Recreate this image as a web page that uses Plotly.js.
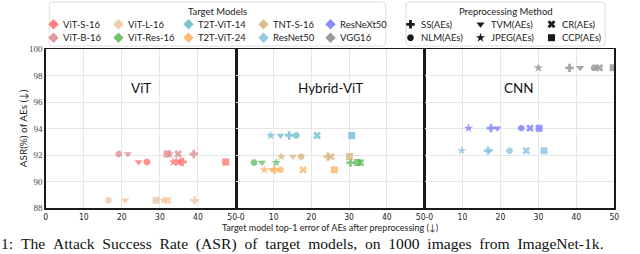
<!DOCTYPE html>
<html><head><meta charset="utf-8">
<script src="https://cdn.plot.ly/plotly-3.0.1.min.js"></script>
<style>html,body{margin:0;padding:0;background:#fff;overflow:hidden}#chart{width:640px;height:254px;}</style>
</head><body><div id="chart"></div>
<script>
// ---- data ----
const models = ['ViT-S-16','ViT-B-16','ViT-L-16','ViT-Res-16','T2T-ViT-14','T2T-ViT-24','TNT-S-16','ResNet50','ResNeXt50','VGG16'];
const modelColors = ['#ff6b6b','#d98a8d','#ebc39b','#5cb85c','#66b9cc','#ffb060','#d8b37a','#86c0dc','#7676ff','#8a8a8a'];
const modelPanel = [0,0,0,1,1,1,1,2,2,2];
const asr = [91.5, 92.1, 88.6, 91.45, 93.5, 90.9, 91.9, 92.35, 94.05, 98.6];
const methods = ['SS(AEs)','NLM(AEs)','TVM(AEs)','JPEG(AEs)','CR(AEs)','CCP(AEs)'];
const methodSymbols = ['cross','octagon','triangle-down','star','x','square'];
// top-1 error after preprocessing, order: SS, NLM, TVM, JPEG, CR, CCP
const errViTS16   = [36.0, 26.6, 24.4, 33.5, 34.8, 47.3];
const errViTB16   = [38.9, 19.2, 21.6, 32.6, 34.8, 31.9];
const errViTL16   = [39.1, 16.5, 20.9, 31.0, 32.1, 29.0];
const errViTRes16 = [30.4,  4.8,  6.9, 10.7, 33.0, 32.2];
const errT2T14    = [14.1, 16.0, 11.8,  9.2, 21.5, 30.7];
const errT2T24    = [10.3, 11.8,  9.6,  7.5, 17.8, 26.1];
const errTNTS16   = [24.3, 17.3, 15.1, 12.0, 25.2, 30.1];
const errResNet50 = [16.7, 22.4, 17.1,  9.8, 26.8, 31.5];
const errResNeXt50= [17.5, 25.5, 19.2, 11.6, 27.8, 30.2];
const errVGG16    = [38.2, 44.7, 41.0, 30.0, 46.1, 49.7];
const errors = [errViTS16, errViTB16, errViTL16, errViTRes16, errT2T14, errT2T24, errTNTS16, errResNet50, errResNeXt50, errVGG16];
const panelTitles = ['ViT','Hybrid-ViT','CNN'];
const xTickVals = [0,10,20,30,40,50];
const xTickText = [['0','10','20','30','40','50-0'],['','10','20','30','40','50-0'],['','10','20','30','40','50']];
const yTickVals = [88,90,92,94,96,98,100];
const legendTitle1 = 'Target Models';
const legendTitle2 = 'Preprocessing Method';
const xTitle = 'Target model top-1 error of AEs after preprocessing (\u2193)';
const yTitle = 'ASR(%) of AEs (\u2193)';
const caption = '1: The Attack Success Rate (ASR) of target models, on 1000 images from ImageNet-1k.';

// ---- layout geometry (px) ----
const W = 640, H = 254;
const panelEdges = [45.7, 236, 424.5, 614.3];
const plotTop = 49.3, plotBottom = 208.3;
const leg1 = {x0: 49.3, x1: 385.7, y0: 2, y1: 46, colX: [53.5, 118.5, 188.5, 263.5, 330.5]};
const leg2 = {x0: 406, x1: 605, y0: 2, y1: 46, colX: [410.5, 480.5, 551.5]};
const rowY = [24.3, 37.7];
const titleY = 11;

const sansFont = 'Lato, "DejaVu Sans", sans-serif';
const traces = [];
const axName = p => (p === 0 ? '' : String(p + 1));

models.forEach((m, i) => {
  const p = modelPanel[i];
  traces.push({
    type: 'scatter', mode: 'markers', name: m,
    x: errors[i], y: errors[i].map(() => asr[i]), text: methods,
    xaxis: 'x' + axName(p), yaxis: 'y' + axName(p),
    marker: {symbol: methodSymbols, color: modelColors[i], size: 7, opacity: 0.75, line: {width: 0}},
    showlegend: false, hovertemplate: m + ' %{text}: (%{x}, %{y})<extra></extra>'
  });
});

// legend markers (overlay pixel axes)
traces.push({
  type: 'scatter', mode: 'markers', xaxis: 'x4', yaxis: 'y4', showlegend: false, hoverinfo: 'skip',
  x: models.map((_, i) => leg1.colX[Math.floor(i / 2)]),
  y: models.map((_, i) => rowY[i % 2]),
  marker: {symbol: 'diamond', size: 8, color: modelColors, opacity: 0.85}
});
traces.push({
  type: 'scatter', mode: 'markers', xaxis: 'x4', yaxis: 'y4', showlegend: false, hoverinfo: 'skip',
  x: methods.map((_, i) => leg2.colX[Math.floor(i / 2)]),
  y: methods.map((_, i) => rowY[i % 2]),
  marker: {symbol: methodSymbols, size: 7, color: '#1a1a1a'}
});

const annotations = [];
models.forEach((m, i) => annotations.push({
  xref: 'x4', yref: 'y4', x: leg1.colX[Math.floor(i / 2)] + 7, y: rowY[i % 2], xanchor: 'left', yanchor: 'middle',
  text: m, showarrow: false, font: {family: sansFont, size: 9.5, color: '#222'}
}));
methods.forEach((m, i) => annotations.push({
  xref: 'x4', yref: 'y4', x: leg2.colX[Math.floor(i / 2)] + 8, y: rowY[i % 2], xanchor: 'left', yanchor: 'middle',
  text: m, showarrow: false, font: {family: sansFont, size: 9.5, color: '#222'}
}));
annotations.push({xref: 'x4', yref: 'y4', x: (leg1.x0 + leg1.x1) / 2, y: titleY, text: legendTitle1, showarrow: false, font: {family: sansFont, size: 9.5, color: '#222'}});
annotations.push({xref: 'x4', yref: 'y4', x: (leg2.x0 + leg2.x1) / 2, y: titleY, text: legendTitle2, showarrow: false, font: {family: sansFont, size: 9.5, color: '#222'}});
panelTitles.forEach((t, p) => annotations.push({
  xref: 'x' + axName(p), yref: 'y' + axName(p), x: 25, y: 97.05, text: t, showarrow: false,
  font: {family: sansFont, size: 13.5, color: '#111'}
}));
annotations.push({xref: 'x4', yref: 'y4', x: (panelEdges[1] + panelEdges[2]) / 2, y: 227.5, text: xTitle, showarrow: false, font: {family: sansFont, size: 9, color: '#222'}});
annotations.push({xref: 'x4', yref: 'y4', x: 22.5, y: (plotTop + plotBottom) / 2, text: yTitle, textangle: -90, showarrow: false, font: {family: sansFont, size: 10, color: '#222'}});
// justified caption line: widen inter-word spaces
annotations.push({xref: 'paper', yref: 'paper', x: 0, y: 0, xanchor: 'left', yanchor: 'bottom', borderpad: 0,
  text: caption.split(' ').join('\u2002'), showarrow: false,
  font: {family: '"Liberation Serif", "DejaVu Serif", serif', size: 15.6, color: '#111'}});

function roundedBox(b, r) {
  return `M ${b.x0 + r},${b.y0} L ${b.x1 - r},${b.y0} Q ${b.x1},${b.y0} ${b.x1},${b.y0 + r} L ${b.x1},${b.y1 - r} Q ${b.x1},${b.y1} ${b.x1 - r},${b.y1} L ${b.x0 + r},${b.y1} Q ${b.x0},${b.y1} ${b.x0},${b.y1 - r} L ${b.x0},${b.y0 + r} Q ${b.x0},${b.y0} ${b.x0 + r},${b.y0} Z`;
}
const shapes = [leg1, leg2].map(b => ({type: 'path', xref: 'x4', yref: 'y4', path: roundedBox(b, 3), line: {color: '#d6d6d6', width: 0.8}, fillcolor: 'rgba(255,255,255,0.8)', layer: 'below'}));

const yDomain = [(H - plotBottom) / H, (H - plotTop) / H];
const layout = {
  width: W, height: H, margin: {l: 0, r: 0, t: 0, b: 0}, autosize: false,
  paper_bgcolor: '#fff', plot_bgcolor: 'rgba(0,0,0,0)', showlegend: false,
  annotations, shapes,
  xaxis4: {domain: [0, 1], range: [0, W], visible: false, fixedrange: true, anchor: 'y4'},
  yaxis4: {domain: [0, 1], range: [H, 0], visible: false, fixedrange: true, anchor: 'x4'}
};
for (let p = 0; p < 3; p++) {
  const s = axName(p);
  layout['xaxis' + s] = {
    domain: [panelEdges[p] / W, panelEdges[p + 1] / W], anchor: 'y' + s, range: [0, 50],
    tickmode: 'array', tickvals: xTickVals, ticktext: xTickText[p],
    showgrid: true, gridcolor: '#e6e6e6', gridwidth: 1, zeroline: false,
    showline: true, linecolor: '#1a1a1a', linewidth: 1.5, mirror: true, ticks: '',
    tickfont: {family: '"DejaVu Sans Condensed", "Liberation Sans Narrow", Lato, sans-serif', size: 8.5, color: '#222'}, fixedrange: true
  };
  layout['yaxis' + s] = {
    domain: yDomain, anchor: 'x' + s, range: [88, 100], tickmode: 'array', tickvals: yTickVals,
    showticklabels: p === 0, showgrid: true, gridcolor: '#e6e6e6', gridwidth: 1, zeroline: false,
    showline: true, linecolor: '#1a1a1a', linewidth: 1.5, mirror: true, ticks: '',
    tickfont: {family: '"Liberation Serif", "DejaVu Serif", serif', size: 9, color: '#444'}, fixedrange: true
  };
}
Plotly.newPlot('chart', traces, layout, {displayModeBar: false, staticPlot: true});
</script>
</body></html>
